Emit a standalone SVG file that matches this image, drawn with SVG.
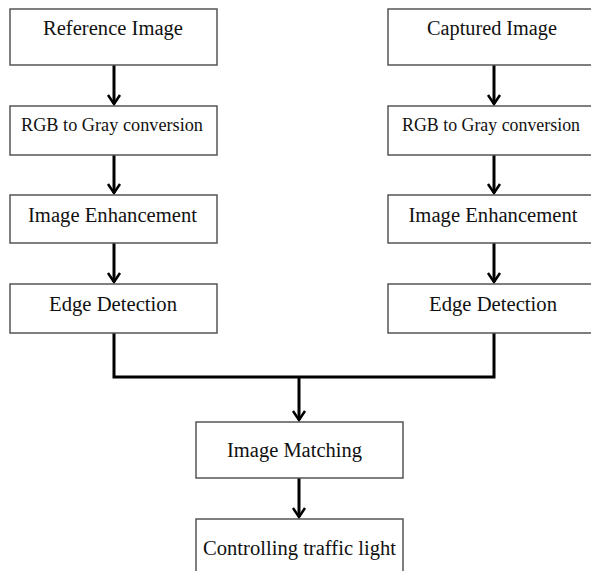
<svg xmlns="http://www.w3.org/2000/svg" width="591" height="571" viewBox="0 0 591 571">
<style>
.box{fill:#fff;stroke:#555;stroke-width:1.5}
.t{font-family:"Liberation Serif","Times New Roman",serif;font-size:20px;fill:#111;text-anchor:middle}
.s{font-size:18.5px}
.c{fill:none;stroke:#000;stroke-width:3}
</style>
<defs>
<marker id="ah" markerUnits="userSpaceOnUse" markerWidth="16" markerHeight="16" viewBox="-12 -8 16 16" refX="0" refY="0" orient="auto">
<path d="M-9,-6 L0,0 L-9,6" fill="none" stroke="#000" stroke-width="2.5"/>
</marker>
</defs>
<rect width="591" height="571" fill="#fff"/>
<g id="connectors">
<line class="c" x1="114" y1="65" x2="114" y2="104" marker-end="url(#ah)"/>
<line class="c" x1="114" y1="155" x2="114" y2="193" marker-end="url(#ah)"/>
<line class="c" x1="114" y1="243" x2="114" y2="282" marker-end="url(#ah)"/>
<line class="c" x1="494" y1="65" x2="494" y2="104" marker-end="url(#ah)"/>
<line class="c" x1="494" y1="155" x2="494" y2="193" marker-end="url(#ah)"/>
<line class="c" x1="494" y1="243" x2="494" y2="282" marker-end="url(#ah)"/>
<polyline class="c" points="114,333 114,377 494,377 494,333"/>
<line class="c" x1="299" y1="377" x2="299" y2="420" marker-end="url(#ah)"/>
<line class="c" x1="299" y1="478" x2="299" y2="517" marker-end="url(#ah)"/>
</g>
<g id="ref-image"><rect class="box" x="10" y="9" width="207" height="56"/><text class="t" x="113" y="35" textLength="140" lengthAdjust="spacingAndGlyphs">Reference Image</text></g>
<g id="ref-gray"><rect class="box" x="10" y="106" width="207" height="49"/><text class="t s" x="112" y="131" textLength="182" lengthAdjust="spacingAndGlyphs">RGB to Gray  conversion</text></g>
<g id="ref-enh"><rect class="box" x="10" y="195" width="207" height="48"/><text class="t" x="112.5" y="222" textLength="169" lengthAdjust="spacingAndGlyphs">Image Enhancement</text></g>
<g id="ref-edge"><rect class="box" x="10" y="284" width="207" height="49"/><text class="t" x="113" y="311" textLength="128" lengthAdjust="spacingAndGlyphs">Edge Detection</text></g>
<g id="cap-image"><rect class="box" x="388" y="9" width="210" height="56"/><text class="t" x="492" y="35" textLength="130" lengthAdjust="spacingAndGlyphs">Captured Image</text></g>
<g id="cap-gray"><rect class="box" x="388" y="106" width="210" height="49"/><text class="t s" x="491" y="131" textLength="178" lengthAdjust="spacingAndGlyphs">RGB to Gray  conversion</text></g>
<g id="cap-enh"><rect class="box" x="388" y="195" width="210" height="48"/><text class="t" x="493" y="222" textLength="169" lengthAdjust="spacingAndGlyphs">Image Enhancement</text></g>
<g id="cap-edge"><rect class="box" x="388" y="284" width="210" height="49"/><text class="t" x="493" y="311" textLength="128" lengthAdjust="spacingAndGlyphs">Edge Detection</text></g>
<g id="matching"><rect class="box" x="196" y="422" width="207" height="56"/><text class="t" x="294.5" y="457" textLength="135" lengthAdjust="spacingAndGlyphs">Image Matching</text></g>
<g id="control"><rect class="box" x="196" y="519" width="207" height="60"/><text class="t" x="299.5" y="555" textLength="193" lengthAdjust="spacingAndGlyphs">Controlling traffic light</text></g>
</svg>
